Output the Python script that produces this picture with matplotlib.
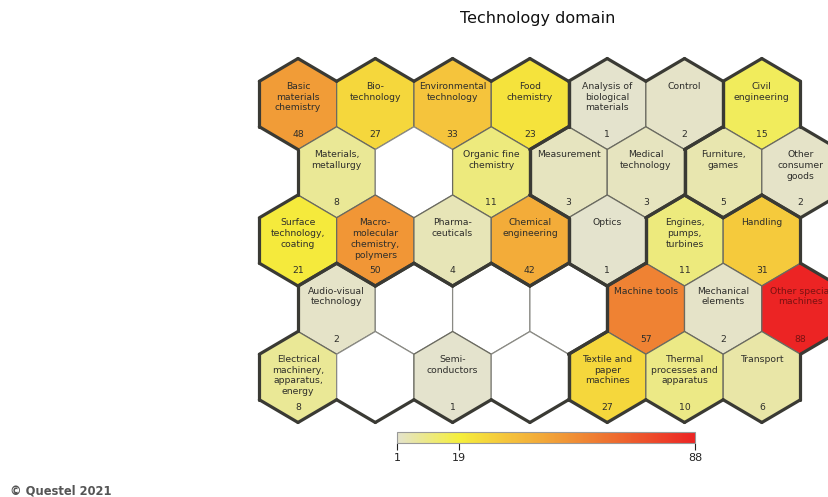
import numpy as np
import matplotlib.pyplot as plt
from matplotlib.patches import Polygon
from matplotlib.collections import LineCollection
from matplotlib.colors import LinearSegmentedColormap, Normalize
from matplotlib.cm import ScalarMappable

# 5 x 7 hex grid, row-major, odd rows shifted half a cell to the right
labels = [
    "Basic\nmaterials\nchemistry", "Bio-\ntechnology", "Environmental\ntechnology", "Food\nchemistry",
    "Analysis of\nbiological\nmaterials", "Control", "Civil\nengineering",
    "Materials,\nmetallurgy", "", "Organic fine\nchemistry", "Measurement",
    "Medical\ntechnology", "Furniture,\ngames", "Other\nconsumer\ngoods",
    "Surface\ntechnology,\ncoating", "Macro-\nmolecular\nchemistry,\npolymers", "Pharma-\nceuticals",
    "Chemical\nengineering", "Optics", "Engines,\npumps,\nturbines", "Handling",
    "Audio-visual\ntechnology", "", "", "", "Machine tools", "Mechanical\nelements", "Other special\nmachines",
    "Electrical\nmachinery,\napparatus,\nenergy", "", "Semi-\nconductors", "",
    "Textile and\npaper\nmachines", "Thermal\nprocesses and\napparatus", "Transport",
]
values = [
    48, 27, 33, 23, 1, 2, 15,
    8, 0, 11, 3, 3, 5, 2,
    21, 50, 4, 42, 1, 11, 31,
    2, 0, 0, 0, 57, 2, 88,
    8, 0, 1, 0, 27, 10, 6,
]
# C chemistry, I instruments, M mechanical, E electrical, O other fields
groups = list("CCCCIIO" + "CCCIIOO" + "CCCCIMM" + "EEEEMMM" + "EEEEMMM")
ncols = 7
vmin, vmax = 1, 88
cbar_ticks = [1, 19, 88]

cmap = LinearSegmentedColormap.from_list("q", [
    (0.0, "#e4e3cd"), (0.207, "#f5ef3c"), (0.36, "#f5c63c"),
    (0.55, "#f19a37"), (0.70, "#ee7430"), (1.0, "#ec2424")])
norm = Normalize(vmin, vmax)

fig = plt.figure(figsize=(8.29, 4.97), dpi=100)
ax = fig.add_axes([0, 0, 1, 1])
ax.set_xlim(-3.855, 6.869)
ax.set_ylim(4.987, -1.320)
ax.axis("off")

R = 1 / np.sqrt(3)
dy = 1.5 * R
ang = np.radians(30 + 60 * np.arange(6))

centers = []
for i in range(len(values)):
    r, c = divmod(i, ncols)
    centers.append((c + 0.5 * (r % 2), r * dy))
lookup = {(round(2 * x), round(y / dy)): groups[i] for i, (x, y) in enumerate(centers)}

thick = []
for i, (cx, cy) in enumerate(centers):
    vx = cx + R * np.cos(ang)
    vy = cy + R * np.sin(ang)
    v = values[i]
    fc = cmap(norm(v)) if v > 0 else "white"
    ec = "#6a6a60" if v > 0 else "#8a8a84"
    ax.add_patch(Polygon(np.column_stack([vx, vy]), closed=True, fc=fc, ec=ec, lw=0.9))
    # thick border where the neighbour belongs to another domain (or is missing)
    for k in range(6):
        d = np.radians(60 + 60 * k)
        nx, ny = cx + np.cos(d), cy + np.sin(d)
        g = lookup.get((round(2 * nx), round(ny / dy)))
        if g != groups[i]:
            k2 = (k + 1) % 6
            thick.append([(vx[k], vy[k]), (vx[k2], vy[k2])])
    if v > 0:
        tc = "#7a1212" if v > 80 else "#2e2e2b"
        ax.text(cx, cy - 0.28, labels[i], ha="center", va="top", fontsize=6.7,
                color=tc, linespacing=1.25)
        ax.text(cx, cy + 0.385, str(v), ha="center", va="center", fontsize=6.7, color=tc)

ax.add_collection(LineCollection(thick, colors="#3a3a34", linewidths=2.3, capstyle="round"))

fig.text(538 / 829, 1 - 18 / 497, "Technology domain", ha="center", va="center",
         fontsize=11.5, color="#111111")
fig.text(10 / 829, 1 - 491 / 497, "\u00a9 Questel 2021", ha="left", va="center",
         fontsize=8.3, fontweight="bold", color="#555555")

cax = fig.add_axes([397 / 829, 1 - 443 / 497, 298 / 829, 11 / 497])
cb = fig.colorbar(ScalarMappable(norm=norm, cmap=cmap), cax=cax, orientation="horizontal",
                  ticks=cbar_ticks)
cb.outline.set_edgecolor("#999999")
cb.outline.set_linewidth(0.8)
cax.tick_params(length=5, width=0.8, pad=2.5, labelsize=8, colors="#222222")

fig.savefig("out.png", dpi=100)
